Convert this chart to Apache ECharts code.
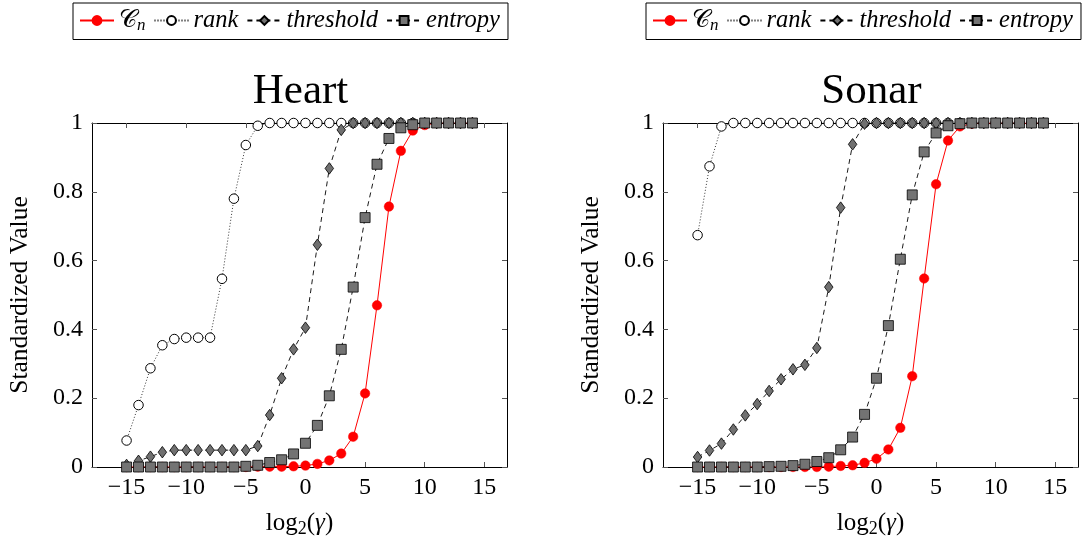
<!DOCTYPE html>
<html><head><meta charset="utf-8">
<script src="https://cdn.jsdelivr.net/npm/echarts@6/dist/echarts.min.js"></script>
<style>html,body{margin:0;padding:0;background:#fff}#c{width:1092px;height:543px}</style>
</head><body><div id="c"></div>
<script>
const xs = [-15,-14,-13,-12,-11,-10,-9,-8,-7,-6,-5,-4,-3,-2,-1,0,1,2,3,4,5,6,7,8,9,10,11,12,13,14];
const xTicks = [-15,-10,-5,0,5,10,15];
const titles = ['Heart','Sonar'];
const seriesNames = ['Cn','rank','threshold','entropy'];

const heartCn = [0,0,0,0,0,0,0,0,0,0,0,0.001,0.001,0.001,0.002,0.004,0.009,0.019,0.039,0.088,0.214,0.47,0.757,0.919,0.978,0.994,1,1,1,1];
const heartRank = [0.077,0.18,0.287,0.354,0.372,0.376,0.376,0.376,0.547,0.78,0.936,0.992,1,1,1,1,1,1,1,1,1,1,1,1,1,1,1,1,1,1];
const heartThreshold = [0.006,0.018,0.03,0.043,0.049,0.049,0.049,0.049,0.049,0.049,0.049,0.061,0.151,0.258,0.342,0.405,0.646,0.868,0.98,1,1,1,1,1,1,1,1,1,1,1];
const heartEntropy = [0,0,0,0,0,0,0,0,0,0,0.002,0.005,0.013,0.021,0.038,0.069,0.121,0.207,0.342,0.523,0.725,0.88,0.955,0.986,0.995,1,1,1,1,1];

const sonarCn = [0,0,0,0,0,0,0,0,0,0,0,0.001,0.003,0.005,0.012,0.024,0.051,0.114,0.264,0.548,0.822,0.949,0.99,0.998,1,1,1,1,1,1];
const sonarRank = [0.674,0.874,0.99,1,1,1,1,1,1,1,1,1,1,1,1,1,1,1,1,1,1,1,1,1,1,1,1,1,1,1];
const sonarThreshold = [0.029,0.048,0.068,0.109,0.15,0.183,0.221,0.255,0.284,0.297,0.346,0.523,0.754,0.938,0.998,1,1,1,1,1,1,1,1,1,1,1,1,1,1,1];
const sonarEntropy = [0,0,0,0,0,0,0.001,0.002,0.004,0.008,0.016,0.027,0.05,0.087,0.153,0.258,0.411,0.604,0.791,0.916,0.971,0.992,0.998,1,1,1,1,1,1,1];

const panels = [
  [heartCn, heartRank, heartThreshold, heartEntropy],
  [sonarCn, sonarRank, sonarThreshold, sonarEntropy]
];

const FONT = '"Liberation Serif","DejaVu Serif",serif';
const gridLefts = [92, 663];
const W = 415, TOP = 123, H = 344;

const styles = [
  {symbol:'circle', symbolSize:9.5, itemStyle:{color:'#ff0000', borderColor:'#ff0000', borderWidth:0.5}, lineStyle:{color:'#ff0000', width:1, type:'solid'}},
  {symbol:'circle', symbolSize:9.5, itemStyle:{color:'#ffffff', borderColor:'#000', borderWidth:1}, lineStyle:{color:'#000', width:0.8, type:[1,2]}},
  {symbol:'diamond', symbolSize:[8.5,11.5], itemStyle:{color:'#707070', borderColor:'#000', borderWidth:0.8}, lineStyle:{color:'#000', width:0.9, type:[5,4]}},
  {symbol:'rect', symbolSize:10, itemStyle:{color:'#737373', borderColor:'#000', borderWidth:0.8}, lineStyle:{color:'#000', width:0.9, type:[5,4]}}
];

const fmtX = v => (v < 0 ? '\u2212' + Math.abs(v) : String(v));
const fmtY = v => String(+v.toFixed(1));

const grid = [], xAxis = [], yAxis = [], series = [], title = [], legend = [];
gridLefts.forEach((L, p) => {
  grid.push({left:L, top:TOP, width:W, height:H, show:false});
  title.push({text:titles[p], left:L + W/2 - 4, top:65, textAlign:'center',
    textStyle:{fontFamily:FONT, fontSize:43, fontWeight:'normal', color:'#000'}});
  xAxis.push({type:'value', gridIndex:p, min:-17.9, max:16.9, position:'bottom',
    axisLine:{onZero:false, lineStyle:{color:'#000', width:1}},
    axisTick:{inside:true, length:5, customValues:xTicks, lineStyle:{color:'#555'}},
    axisLabel:{customValues:xTicks, formatter:fmtX, fontFamily:FONT, fontSize:24, color:'#000', margin:9},
    splitLine:{show:false},
    name:'{a|log}{s|2}{a|(}{g|\u03B3}{a|)}', nameLocation:'middle', nameGap:42,
    nameTextStyle:{rich:{a:{fontFamily:FONT, fontSize:25, color:'#000'}, s:{fontFamily:FONT, fontSize:18, color:'#000', padding:[11,0,0,0]}, g:{fontFamily:FONT, fontSize:25, fontStyle:'italic', color:'#000'}}}
  });
  xAxis.push({type:'value', gridIndex:p, min:-17.9, max:16.9, position:'top',
    axisLine:{onZero:false, lineStyle:{color:'#000', width:1}},
    axisTick:{inside:true, length:5, customValues:xTicks, lineStyle:{color:'#555'}},
    axisLabel:{show:false}, splitLine:{show:false}});
  yAxis.push({type:'value', gridIndex:p, min:0, max:1, interval:0.2, position:'left',
    axisLine:{show:true, onZero:false, lineStyle:{color:'#000', width:1}},
    axisTick:{show:true, inside:true, length:5, lineStyle:{color:'#555'}},
    axisLabel:{formatter:fmtY, fontFamily:FONT, fontSize:24, color:'#000', margin:9},
    splitLine:{show:false},
    name:'Standardized Value', nameLocation:'middle', nameGap:59, nameRotate:90,
    nameTextStyle:{fontFamily:FONT, fontSize:25.5, color:'#000'}});
  yAxis.push({type:'value', gridIndex:p, min:0, max:1, interval:0.2, position:'right',
    axisLine:{show:true, onZero:false, lineStyle:{color:'#000', width:1}},
    axisTick:{show:true, inside:true, length:5, lineStyle:{color:'#555'}},
    axisLabel:{show:false}, splitLine:{show:false}});
  panels[p].forEach((vals, i) => {
    series.push(Object.assign({
      type:'line', name:seriesNames[i], xAxisIndex:2*p, yAxisIndex:2*p,
      data: xs.map((x, k) => [x, vals[k]]), showAllSymbol:true, animation:false, z:2+i
    }, styles[i]));
  });
  legend.push({
    data:seriesNames, left:[73, 646][p], top:3, orient:'horizontal',
    itemWidth:34, itemHeight:11, itemGap:8,
    borderColor:'#000', borderWidth:1, padding:[5,8,5,6],
    textStyle:{fontFamily:FONT, fontStyle:'italic', fontSize:24.5, color:'#000',
      rich:{c:{fontFamily:FONT, fontStyle:'normal', fontSize:24.5, color:'#000'}, n:{fontFamily:FONT, fontStyle:'italic', fontSize:17, color:'#000', padding:[11,0,0,0]}}},
    formatter: n => n === 'Cn' ? '{c|\uD835\uDC9E}{n|n}' : n,
    selectedMode:false
  });
});

const chart = echarts.init(document.getElementById('c'), null, {renderer:'canvas'});
chart.setOption({animation:false, backgroundColor:'#fff', title, legend, grid, xAxis, yAxis, series});
</script></body></html>
